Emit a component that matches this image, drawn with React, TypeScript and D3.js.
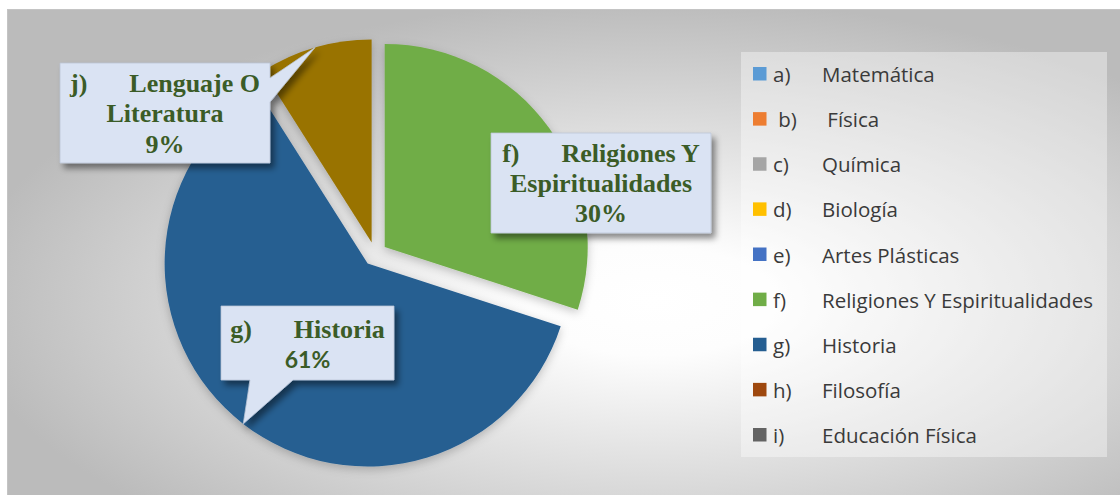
import React from "react";
import * as d3 from "d3";

const prefixes = ["a)", " b)", "c)", "d)", "e)", "f)", "g)", "h)", "i)", "j)"];
const categories = [
  "Matemática",
  " Física",
  "Química",
  "Biología",
  "Artes Plásticas",
  "Religiones Y Espiritualidades",
  "Historia",
  "Filosofía",
  "Educación Física",
  "Lenguaje O Literatura",
];
const values = [0, 0, 0, 0, 0, 30, 61, 0, 0, 9];
const colors = [
  "#5b9bd5",
  "#ed7d31",
  "#a5a5a5",
  "#ffc000",
  "#4472c4",
  "#70ad47",
  "#255e91",
  "#9e480e",
  "#636363",
  "#997300",
];
const legendCount = 9;

// label text lines (category name split as in the picture)
const labelLines: Record<number, string[]> = {
  5: ["Religiones Y", "Espiritualidades"],
  6: ["Historia"],
  9: ["Lenguaje O", "Literatura"],
};

const W = 1120;
const H = 495;
const CX = 375;
const CY = 254;
const R = 203;
const EXPLODE = 12;

const serif = "'Liberation Serif', 'Times New Roman', serif";
const sans = "'Open Sans', sans-serif";
const labelColor = "#3b5c27";

export default function App() {
  const total = d3.sum(values);
  const pie = d3.pie<number>().sort(null).value((d) => d);
  const arcs = pie(values);
  const arcGen = d3.arc<d3.PieArcDatum<number>>().innerRadius(0).outerRadius(R);

  const offset = (a: d3.PieArcDatum<number>) => {
    const mid = (a.startAngle + a.endAngle) / 2;
    return [Math.sin(mid) * EXPLODE, -Math.cos(mid) * EXPLODE];
  };
  const tip = (a: d3.PieArcDatum<number>) => {
    const mid = (a.startAngle + a.endAngle) / 2;
    const [ox, oy] = offset(a);
    return [CX + ox + Math.sin(mid) * R, CY + oy - Math.cos(mid) * R];
  };
  const pct = (i: number) => `${d3.format(".0f")((values[i] / total) * 100)}%`;

  // callout boxes (layout)
  const jBox = { x: 60, y: 63, w: 210, h: 100 };
  const fBox = { x: 491, y: 133, w: 220, h: 100 };
  const gBox = { x: 221, y: 306, w: 173, h: 74 };

  const jTip = tip(arcs[9]);
  const gTip = tip(arcs[6]);

  const jPath = `M${jBox.x},${jBox.y}H${jBox.x + jBox.w}V${jBox.y + 15}L${jTip[0]},${jTip[1]}L${jBox.x + jBox.w},${jBox.y + 39}V${jBox.y + jBox.h}H${jBox.x}Z`;
  const fPath = `M${fBox.x},${fBox.y}H${fBox.x + fBox.w}V${fBox.y + fBox.h}H${fBox.x}Z`;
  const gPath = `M${gBox.x},${gBox.y}H${gBox.x + gBox.w}V${gBox.y + gBox.h}H${gBox.x + 72}L${gTip[0]},${gTip[1]}L${gBox.x + 29},${gBox.y + gBox.h}H${gBox.x}Z`;

  const legendY = d3.scaleLinear().domain([0, legendCount - 1]).range([74, 435]);

  const headerLine = (i: number, cx: number, y: number) => (
    <text x={cx} y={y} textAnchor="middle" fontFamily={serif} fontWeight="bold" fontSize={26} fill={labelColor}>
      <tspan>{prefixes[i].trim()}</tspan>
      <tspan dx={42}>{labelLines[i][0]}</tspan>
    </text>
  );

  return (
    <svg width={W} height={H} style={{ position: "absolute", left: 0, top: 0 }}>
      <defs>
        <radialGradient id="bg" cx="0.58" cy="0.6" r="0.62">
          <stop offset="0" stopColor="#ffffff" />
          <stop offset="0.18" stopColor="#fdfdfd" />
          <stop offset="1" stopColor="#bbbbbb" />
        </radialGradient>
        <filter id="pieShadow" x="-20%" y="-20%" width="140%" height="140%">
          <feDropShadow dx="0" dy="3" stdDeviation="5" floodColor="#000" floodOpacity="0.22" />
        </filter>
        <filter id="boxShadow" x="-20%" y="-20%" width="140%" height="150%">
          <feDropShadow dx="4" dy="5" stdDeviation="3" floodColor="#000" floodOpacity="0.45" />
        </filter>
      </defs>
      <rect x={7.5} y={9.5} width={1113} height={486} fill="url(#bg)" stroke="#c4c4c4" strokeWidth={1} />

      <g filter="url(#pieShadow)">
        {arcs.map((a, i) =>
          a.endAngle - a.startAngle > 0 ? (
            <path
              key={i}
              d={arcGen(a) || ""}
              fill={colors[i]}
              transform={`translate(${CX + offset(a)[0]},${CY + offset(a)[1]})`}
            />
          ) : null
        )}
      </g>

      {/* j callout */}
      <path d={jPath} fill="#dae3f3" stroke="#b9c4d6" strokeWidth={0.75} filter="url(#boxShadow)" />
      {headerLine(9, jBox.x + jBox.w / 2, jBox.y + 29)}
      <text x={jBox.x + jBox.w / 2} y={jBox.y + 59} textAnchor="middle" fontFamily={serif} fontWeight="bold" fontSize={26} fill={labelColor}>
        {labelLines[9][1]}
      </text>
      <text x={jBox.x + jBox.w / 2} y={jBox.y + 90} textAnchor="middle" fontFamily={serif} fontWeight="bold" fontSize={26} fill={labelColor}>
        {pct(9)}
      </text>

      {/* f callout */}
      <path d={fPath} fill="#dae3f3" stroke="#b9c4d6" strokeWidth={0.75} filter="url(#boxShadow)" />
      {headerLine(5, fBox.x + fBox.w / 2, fBox.y + 29)}
      <text x={fBox.x + fBox.w / 2} y={fBox.y + 59} textAnchor="middle" fontFamily={serif} fontWeight="bold" fontSize={26} fill={labelColor}>
        {labelLines[5][1]}
      </text>
      <text x={fBox.x + fBox.w / 2} y={fBox.y + 89} textAnchor="middle" fontFamily={serif} fontWeight="bold" fontSize={26} fill={labelColor}>
        {pct(5)}
      </text>

      {/* g callout */}
      <path d={gPath} fill="#dae3f3" stroke="#b9c4d6" strokeWidth={0.75} filter="url(#boxShadow)" />
      {headerLine(6, gBox.x + gBox.w / 2, gBox.y + 32)}
      <text x={gBox.x + gBox.w / 2} y={gBox.y + 62} textAnchor="middle" fontFamily="'Lato', 'Open Sans', sans-serif" fontWeight={700} fontSize={23} fill={labelColor}>
        {pct(6)}
      </text>

      {/* legend */}
      <rect x={741} y={52} width={366} height={405} fill="#ffffff" fillOpacity={0.38} />
      {d3.range(legendCount).map((i) => {
        const y = legendY(i);
        return (
          <g key={i}>
            <rect x={753} y={y - 7} width={13.5} height={13.5} fill={colors[i]} />
            <text x={773} y={y + 8} fontFamily={sans} fontSize={20.5} fill="#3a3a3a" style={{ whiteSpace: "pre" }}>
              {prefixes[i]}
            </text>
            <text x={822} y={y + 8} fontFamily={sans} fontSize={20.5} fill="#3a3a3a" style={{ whiteSpace: "pre" }}>
              {categories[i]}
            </text>
          </g>
        );
      })}
    </svg>
  );
}
